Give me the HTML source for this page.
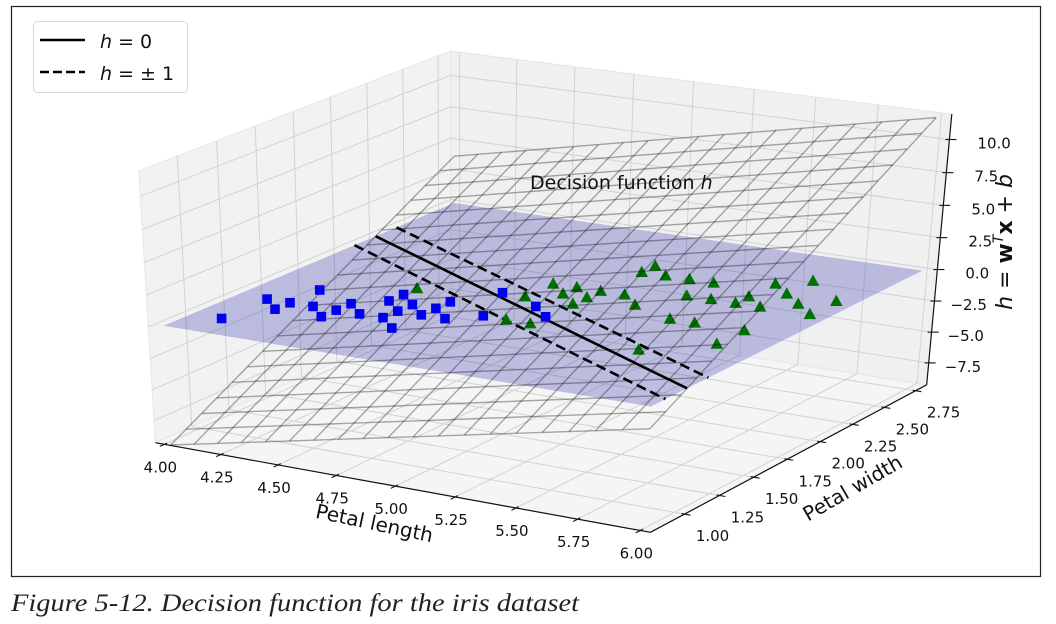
<!DOCTYPE html>
<html><head><meta charset="utf-8"><style>
html,body{margin:0;padding:0;background:#fff;}
svg{display:block;}
text{font-family:"DejaVu Sans","Liberation Sans",sans-serif;}
text.cap{font-family:"Liberation Serif",serif;}
</style></head><body>
<svg id="chart" width="1056" height="624" viewBox="0 0 1056 624" xmlns="http://www.w3.org/2000/svg">
<rect x="11.5" y="6.5" width="1029" height="570" fill="#fff" stroke="#222" stroke-width="1.2"/>
<g id="g-panes"></g>
<g id="g-grid"></g>
<g id="g-axes"></g>
<g id="g-plane"></g>
<g id="g-lines"></g>
<g id="g-green"></g>
<g id="g-wire"></g>
<g id="g-blue"></g>
<g id="g-labels"></g>
<text x="530" y="189" font-size="19" fill="#111">Decision function <tspan font-style="italic">h</tspan></text>
<text transform="translate(373,530) rotate(12)" text-anchor="middle" font-size="20" fill="#111">Petal length</text>
<text transform="translate(856,494) rotate(-30)" text-anchor="middle" font-size="20" fill="#111">Petal width</text>
<text transform="translate(1012,242) rotate(-90)" text-anchor="middle" font-size="22" fill="#111"><tspan font-style="italic">h</tspan> = <tspan font-weight="bold">w</tspan><tspan font-size="14" dy="-9" font-style="italic">T</tspan><tspan dy="9" font-weight="bold">x</tspan> + <tspan font-style="italic">b</tspan></text>
<g>
<rect x="33.5" y="21.5" width="154" height="71" rx="4" fill="#fff" stroke="#d8d8d8" stroke-width="1"/>
<line x1="40" y1="40" x2="85" y2="40" stroke="#000" stroke-width="2.6"/>
<text x="100" y="48" font-size="19" fill="#111"><tspan font-style="italic">h</tspan> = 0</text>
<line x1="40" y1="72" x2="85" y2="72" stroke="#000" stroke-width="2.6" stroke-dasharray="9,4"/>
<text x="100" y="80" font-size="19" fill="#111"><tspan font-style="italic">h</tspan> =  ± 1</text>
</g>
<text class="cap" x="11" y="611" style="font-family:'Liberation Serif',serif;font-style:italic" font-size="25" fill="#222" textLength="568" lengthAdjust="spacingAndGlyphs">Figure 5-12. Decision function for the iris dataset</text>
</svg>
<script>
// ---- data ----
const blueX = [4.1,4.1,4.2,4.2,4.2,4.3,4.4,4.4,4.4,4.5,4.5,4.5,4.6,4.6,4.6,4.7,4.7,4.7,4.7,4.8,4.9,4.8,5.0,5.1];
const blueY = [1.0,1.3,1.2,1.3,1.5,1.3,1.2,1.3,1.4,1.3,1.5,1.6,1.4,1.5,1.3,1.2,1.4,1.5,1.6,1.4,1.5,1.8,1.7,1.6];
const greenX = [4.5,4.9,5.0,5.1,4.9,5.0,5.0,5.1,5.1,5.1,5.2,5.3,5.1,5.1,5.2,5.3,5.4,5.4,5.5,5.5,5.6,5.6,5.6,5.7,5.6,5.7,5.8,5.7,5.9,5.9,5.8,5.8,5.6];
const greenY = [1.7,1.8,1.5,1.5,2.0,1.9,2.0,1.8,1.9,2.0,2.0,1.9,2.3,2.4,2.3,2.3,2.3,2.1,2.1,1.8,1.8,2.1,2.2,2.1,2.4,2.3,2.2,2.5,2.1,2.3,1.8,1.6,1.4];
const weights = [3.95, 6.7];
const bias = -30.74;
const xTicks = [4.00,4.25,4.50,4.75,5.00,5.25,5.50,5.75,6.00];
const yTicks = [1.00,1.25,1.50,1.75,2.00,2.25,2.50,2.75];
const zTicks = [-7.5,-5.0,-2.5,0.0,2.5,5.0,7.5,10.0];
const xLim = [3.96, 6.04];
const yLim = [0.76, 2.84];
const zLim = [-9.3, 11.9];
const x1Lim = [4, 6];
const x2Lim = [0.8, 2.8];

// ---- camera fit (DLT) ----
const corr = [
 [4,0.8,0,169,330],[6,0.8,0,662,409],[6,2.8,0,920,272],[4,2.8,0,455,205],
 [6.04,2.84,10,947,140],[6.04,2.84,-7.5,929,365],
 [4,0.76,-9.3,163,444],[6,0.76,-9.3,616,529],
 [6.04,1.0,-9.3,697,512],[6.04,2.75,-9.3,920,387],
 [3.96,2.84,11.9,448,48],[3.96,0.76,11.9,137,168],[6.04,2.84,11.9,952,115]
];
function nrm(x,y,z){return [x-5,y-1.8,z/10];}
const A=[],B=[];
corr.forEach(c=>{
  const [X,Y,Z]=nrm(c[0],c[1],c[2]);const u=(c[3]-500)/500,v=(c[4]-300)/500;
  A.push([X,Y,Z,1,0,0,0,0,-u*X,-u*Y,-u*Z]);B.push(u);
  A.push([0,0,0,0,X,Y,Z,1,-v*X,-v*Y,-v*Z]);B.push(v);
});
const n=11;const M=[];for(let i=0;i<n;i++){M.push(new Array(n+1).fill(0));}
for(let r=0;r<A.length;r++){for(let i=0;i<n;i++){for(let j=0;j<n;j++)M[i][j]+=A[r][i]*A[r][j];M[i][n]+=A[r][i]*B[r];}}
for(let i=0;i<n;i++){let p=i;for(let k=i+1;k<n;k++)if(Math.abs(M[k][i])>Math.abs(M[p][i]))p=k;[M[i],M[p]]=[M[p],M[i]];
 for(let k=0;k<n;k++){if(k===i)continue;const f=M[k][i]/M[i][i];for(let j=i;j<=n;j++)M[k][j]-=f*M[i][j];}}
const P=M.map((r,i)=>r[n]/r[i]);
function proj(x,y,z){const [X,Y,Z]=nrm(x,y,z);
 const w=P[8]*X+P[9]*Y+P[10]*Z+1;
 return [500+500*(P[0]*X+P[1]*Y+P[2]*Z+P[3])/w, 300+500*(P[4]*X+P[5]*Y+P[6]*Z+P[7])/w];}

const NS="http://www.w3.org/2000/svg";
function mk(tag,attrs,parent){const e=document.createElementNS(NS,tag);for(const k in attrs)e.setAttribute(k,attrs[k]);parent.appendChild(e);return e;}
function pts(arr){return arr.map(p=>{const q=proj(p[0],p[1],p[2]);return q[0].toFixed(1)+","+q[1].toFixed(1);}).join(" ");}
function seg(parent,a,b,attrs){const p=proj(...a),q=proj(...b);const l=mk('line',Object.assign({x1:p[0],y1:p[1],x2:q[0],y2:q[1]},attrs),parent);return l;}

const gP=document.getElementById('g-panes'),gG=document.getElementById('g-grid'),gA=document.getElementById('g-axes'),
 gPl=document.getElementById('g-plane'),gL=document.getElementById('g-lines'),gGr=document.getElementById('g-green'),
 gW=document.getElementById('g-wire'),gB=document.getElementById('g-blue'),gT=document.getElementById('g-labels');
const [x0,x1]=xLim,[y0,y1]=yLim,[z0,z1]=zLim;
let e;
e=mk('polygon',{points:pts([[x0,y0,z0],[x1,y0,z0],[x1,y1,z0],[x0,y1,z0]]),fill:'#f5f5f5',stroke:'#e6e6e6'},gP);


e=mk('polygon',{points:pts([[x0,y0,z0],[x0,y1,z0],[x0,y1,z1],[x0,y0,z1]]),fill:'#f2f2f2',stroke:'#e6e6e6'},gP);


e=mk('polygon',{points:pts([[x0,y1,z0],[x1,y1,z0],[x1,y1,z1],[x0,y1,z1]]),fill:'#f0f0f0',stroke:'#e6e6e6'},gP);


const gs={stroke:'#d2d2d2','stroke-width':1};
xTicks.forEach(x=>{e=seg(gG,[x,y0,z0],[x,y1,z0],gs);
 e=seg(gG,[x,y1,z0],[x,y1,z1],gs);});
yTicks.forEach(y=>{e=seg(gG,[x0,y,z0],[x1,y,z0],gs);
 e=seg(gG,[x0,y,z0],[x0,y,z1],gs);});
zTicks.forEach(z=>{e=seg(gG,[x0,y0,z],[x0,y1,z],gs);
 e=seg(gG,[x0,y1,z],[x1,y1,z],gs);});
const as={stroke:'#111','stroke-width':1.2};
e=seg(gA,[x0,y0,z0],[x1,y0,z0],as);
e=seg(gA,[x1,y0,z0],[x1,y1,z0],as);
e=seg(gA,[x1,y1,z0],[x1,y1,z1],as);
function tickMark(p,dx,dy,a,b){const l=mk('line',{x1:p[0]-dx*a,y1:p[1]-dy*a,x2:p[0]+dx*b,y2:p[1]+dy*b,stroke:'#111','stroke-width':1.1},gA);return l;}
function dir(p,q){const dx=q[0]-p[0],dy=q[1]-p[1],L=Math.hypot(dx,dy);return [dx/L,dy/L];}
xTicks.forEach(x=>{const p=proj(x,y0,z0),d=dir(p,proj(x,y0-0.1,z0));e=tickMark(p,d[0],d[1],3,5);
 
 const t=mk('text',{x:p[0]-4,y:p[1]+28,'text-anchor':'middle','font-size':15,fill:'#111'},gT);t.textContent=x.toFixed(2);
 });
yTicks.forEach(y=>{const p=proj(x1,y,z0),d=dir(p,proj(x1+0.1,y,z0));e=tickMark(p,d[0],d[1],3,6);
 
 const t=mk('text',{x:p[0]+28,y:p[1]+27,'text-anchor':'middle','font-size':15,fill:'#111'},gT);t.textContent=y.toFixed(2);
 });
zTicks.forEach(z=>{const p=proj(x1,y1,z);e=tickMark(p,1,0,4,7);
 
 const t=mk('text',{x:p[0]+28,y:p[1]+9,'text-anchor':'start','font-size':15,fill:'#111'},gT);t.textContent=(z<0?'\u2212'+(-z).toFixed(1):z.toFixed(1));
 if(z<0)t.setAttribute('x',p[0]+16);
 });
e=mk('polygon',{points:pts([[x1Lim[0],x2Lim[0],0],[x1Lim[1],x2Lim[0],0],[x1Lim[1],x2Lim[1],0],[x1Lim[0],x2Lim[1],0]]),fill:'rgba(40,40,170,0.27)'},gPl);


function bline(off,dash,name){const a=[],N=20;for(let i=0;i<N;i++){const x=x1Lim[0]+(x1Lim[1]-x1Lim[0])*i/(N-1);a.push([x,-(weights[0]*x+bias-off)/weights[1],0]);}
 const l=mk('polyline',{points:pts(a),fill:'none',stroke:'#000','stroke-width':2.6},gL);if(dash)l.setAttribute('stroke-dasharray','10,5');
 
 }
bline(0,false,'boundary-h0');bline(1,true,'margin-h-plus1');bline(-1,true,'margin-h-minus1');
greenX.forEach((x,i)=>{const p=proj(x,greenY[i],0);const s=6.3;
 const t=mk('polygon',{points:`${p[0]+3},${p[1]-s+2} ${p[0]-s+3},${p[1]+s*0.8+2} ${p[0]+s+3},${p[1]+s*0.8+2}`,fill:'#007000'},gGr);
 
 });
function hf(x,y){return weights[0]*x+weights[1]*y+bias;}
const NW=20;
for(let i=0;i<NW;i++){const x=x1Lim[0]+(x1Lim[1]-x1Lim[0])*i/(NW-1);const a=[],b=[];
 for(let j=0;j<NW;j++){const y=x2Lim[0]+(x2Lim[1]-x2Lim[0])*j/(NW-1);a.push([x,y,hf(x,y)]);
  const xx=x1Lim[0]+(x1Lim[1]-x1Lim[0])*j/(NW-1),yy=x2Lim[0]+(x2Lim[1]-x2Lim[0])*i/(NW-1);b.push([xx,yy,hf(xx,yy)]);}
 let l=mk('polyline',{points:pts(a),fill:'none',stroke:'rgba(0,0,0,0.33)','stroke-width':1.4},gW);
 
 
 l=mk('polyline',{points:pts(b),fill:'none',stroke:'rgba(0,0,0,0.33)','stroke-width':1.4},gW);
 
 }
blueX.forEach((x,i)=>{const p=proj(x,blueY[i],0);const s=4.8;
 const r=mk('rect',{x:p[0]-s+4,y:p[1]-s+2,width:2*s,height:2*s,fill:'#0000f0'},gB);
 
 });
</script>
</body></html>
